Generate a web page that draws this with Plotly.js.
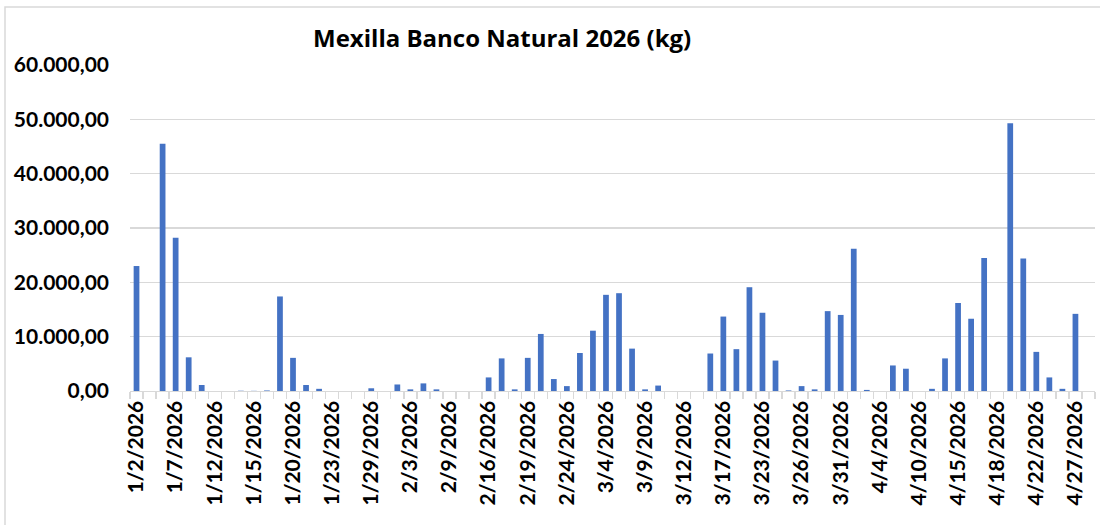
<!DOCTYPE html>
<html>
<head>
<meta charset="utf-8">
<script src="https://cdn.plot.ly/plotly-3.0.1.min.js"></script>
<style>
html,body{margin:0;padding:0;background:#fff;}
#chart{width:1100px;height:525px;}
</style>
</head>
<body>
<div id="chart"></div>
<script>
// Category dates (one per bar slot)
var dates = [
 "1/2/2026","1/5/2026","1/6/2026","1/7/2026","1/8/2026","1/9/2026",
 "1/12/2026","1/13/2026","1/14/2026","1/15/2026","1/16/2026","1/19/2026",
 "1/20/2026","1/21/2026","1/22/2026","1/23/2026","1/26/2026","1/27/2026",
 "1/29/2026","1/30/2026","2/2/2026","2/3/2026","2/4/2026","2/5/2026",
 "2/9/2026","2/10/2026","2/12/2026","2/16/2026","2/17/2026","2/18/2026",
 "2/19/2026","2/20/2026","2/23/2026","2/24/2026","2/26/2026","3/2/2026",
 "3/4/2026","3/5/2026","3/6/2026","3/9/2026","3/10/2026","3/11/2026",
 "3/12/2026","3/13/2026","3/16/2026","3/17/2026","3/18/2026","3/20/2026",
 "3/23/2026","3/24/2026","3/25/2026","3/26/2026","3/27/2026","3/30/2026",
 "3/31/2026","4/1/2026","4/2/2026","4/4/2026","4/7/2026","4/8/2026",
 "4/10/2026","4/13/2026","4/14/2026","4/15/2026","4/16/2026","4/17/2026",
 "4/18/2026","4/20/2026","4/21/2026","4/22/2026","4/23/2026","4/24/2026",
 "4/27/2026","4/28/2026"
];
// Kilograms per date
var kg = [
 23000, 0, 45500, 28200, 6200, 1100,
 0, 0, 50, 30, 100, 17400,
 6100, 1100, 400, 0, 0, 0,
 500, 0, 1200, 300, 1400, 300,
 0, 0, 0, 2500, 6000, 300,
 6100, 10500, 2200, 900, 7000, 11100,
 17700, 18000, 7800, 300, 1000, 0,
 0, 0, 6900, 13700, 7700, 19100,
 14400, 5600, 100, 900, 300, 14700,
 14000, 26200, 200, 0, 4700, 4100,
 0, 400, 6000, 16200, 13300, 24500,
 0, 49300, 24400, 7200, 2500, 400,
 14200, 0
];
// Dates shown as tick labels
var tickLabels = [
 "1/2/2026","1/7/2026","1/12/2026","1/15/2026","1/20/2026","1/23/2026",
 "1/29/2026","2/3/2026","2/9/2026","2/16/2026","2/19/2026","2/24/2026",
 "3/4/2026","3/9/2026","3/12/2026","3/17/2026","3/23/2026","3/26/2026",
 "3/31/2026","4/4/2026","4/10/2026","4/15/2026","4/18/2026","4/22/2026",
 "4/27/2026"
];
var titleText = "Mexilla Banco Natural 2026 (kg)";

var tickText = dates.map(function(d){ return tickLabels.indexOf(d) >= 0 ? d : ""; });

var trace = {
  type: "bar",
  x: dates,
  y: kg,
  marker: {color: "#4472C4", line: {width: 0}},
  hoverinfo: "x+y"
};

var layout = {
  width: 1100, height: 525,
  margin: {l: 130, r: 5, t: 65, b: 134, pad: 0},
  paper_bgcolor: "#ffffff",
  plot_bgcolor: "#ffffff",
  separators: ",.",
  bargap: 0.56,
  showlegend: false,
  font: {family: "Lato, 'Open Sans', sans-serif", color: "#000000"},
  title: {
    text: "<b>" + titleText + "</b>",
    font: {family: "'Open Sans', sans-serif", size: 24, color: "#000000"},
    xref: "container", x: 0.4565, xanchor: "center",
    yref: "container", y: 1 - 39/525, yanchor: "middle"
  },
  xaxis: {
    type: "category",
    categoryorder: "array",
    categoryarray: dates,
    tickmode: "array",
    tickvals: dates,
    ticktext: tickText,
    tickson: "boundaries",
    ticks: "outside",
    ticklen: 7,
    tickwidth: 1.3,
    tickcolor: "#d9d9d9",
    tickangle: -90,
    tickfont: {family: "Lato, sans-serif", size: 21, color: "#000000", weight: "bold"},
    showgrid: false,
    showline: true,
    linecolor: "#d9d9d9",
    linewidth: 1.3,
    zeroline: false,
    fixedrange: true
  },
  yaxis: {
    range: [0, 60000],
    tickmode: "linear",
    tick0: 0,
    dtick: 10000,
    tickformat: ",.2f",
    ticks: "",
    ticklabelstandoff: 20,
    tickfont: {family: "Lato, sans-serif", size: 21, color: "#000000", weight: "bold"},
    showgrid: true,
    gridcolor: "#d9d9d9",
    gridwidth: 1.3,
    zeroline: false,
    showline: false,
    fixedrange: true
  },
  shapes: [{
    type: "rect", xref: "paper", yref: "paper",
    x0: (5 - 130) / 965, x1: (1110 - 130) / 965,
    y0: (391 - 540) / 326, y1: (391 - 7) / 326,
    line: {color: "#d9d9d9", width: 1.5},
    fillcolor: "rgba(0,0,0,0)",
    layer: "below"
  }]
};

Plotly.newPlot("chart", [trace], layout, {displayModeBar: false, staticPlot: true});
</script>
</body>
</html>
